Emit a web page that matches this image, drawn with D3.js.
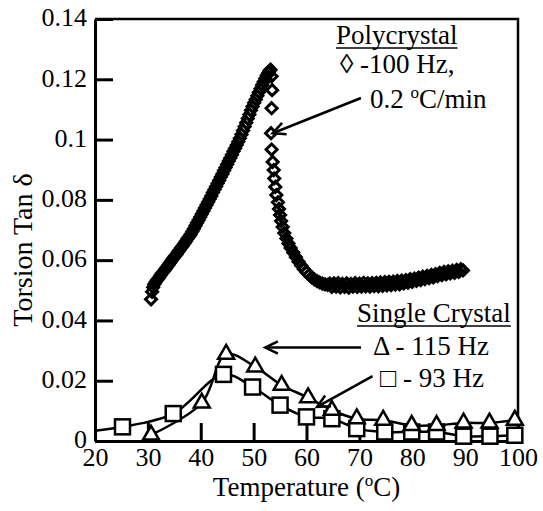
<!DOCTYPE html>
<html>
<head>
<meta charset="utf-8">
<script src="https://cdn.jsdelivr.net/npm/d3@7/dist/d3.min.js"></script>
<style>
    body { margin: 0; background: #fff; }
</style>
</head>
<body>
<div id="chart"></div>
<script>
// polycrystal, 100 Hz, 0.2 C/min (dense run)
let polyTemp = [
    30.6, 30.8, 31.0, 31.2, 31.5, 31.8, 32.1, 32.4, 32.7, 33.0, 33.3, 33.6, 33.9, 34.2, 34.5, 34.8,
    35.1, 35.4, 35.7, 36.0, 36.3, 36.6, 36.9, 37.2, 37.5, 37.8, 38.1, 38.4, 38.7, 39.0, 39.3, 39.6,
    39.9, 40.2, 40.5, 40.8, 41.1, 41.4, 41.7, 42.0, 42.3, 42.6, 42.9, 43.2, 43.5, 43.8, 44.1, 44.4,
    44.7, 45.0, 45.3, 45.6, 45.9, 46.2, 46.5, 46.8, 47.1, 47.4, 47.7, 48.0, 48.3, 48.6, 48.9, 49.2,
    49.5, 49.8, 50.1, 50.4, 50.7, 51.0, 51.3, 51.6, 51.9, 52.2, 52.5, 52.8, 53.0, 53.2,
    53.4, 53.5, 53.4, 53.3, 53.4, 53.6, 53.8, 53.9, 54.1, 54.3, 54.6, 54.8, 55.0, 55.2, 55.5, 55.8,
    56.2, 56.6, 57.0, 57.5, 58.0, 58.5, 59.0, 59.5, 60.0, 60.5, 61.0, 61.5, 62.0, 62.5, 63.0, 63.5,
    64.0, 64.4, 64.8, 65.2, 65.6, 66.0, 66.4, 66.8, 67.2, 67.6, 68.0, 68.4, 68.8, 69.2, 69.6, 70.0,
    70.4, 70.8, 71.2, 71.6, 72.0, 72.4, 72.8, 73.2, 73.6, 74.0, 74.4, 74.8, 75.2, 75.6, 76.0, 76.4,
    76.8, 77.2, 77.6, 78.0, 78.4, 78.8, 79.2, 79.6, 80.0, 80.4, 80.8, 81.2, 81.6, 82.0, 82.4, 82.8,
    83.2, 83.6, 84.0, 84.4, 84.8, 85.2, 85.6, 86.0, 86.4, 86.8, 87.2, 87.6, 88.0, 88.4, 88.8, 89.2, 89.6
]
let polyTan = [
    0.0470, 0.0495, 0.0510, 0.0520, 0.0528, 0.0535, 0.0542, 0.0550, 0.0557, 0.0563, 0.0570, 0.0577, 0.0584, 0.0591, 0.0599, 0.0606,
    0.0613, 0.0619, 0.0627, 0.0634, 0.0641, 0.0648, 0.0655, 0.0663, 0.0671, 0.0678, 0.0686, 0.0695, 0.0704, 0.0714, 0.0724, 0.0733,
    0.0743, 0.0753, 0.0763, 0.0773, 0.0783, 0.0793, 0.0803, 0.0813, 0.0824, 0.0834, 0.0844, 0.0855, 0.0865, 0.0876, 0.0886, 0.0897,
    0.0907, 0.0918, 0.0929, 0.0939, 0.0950, 0.0961, 0.0971, 0.0982, 0.0993, 0.1004, 0.1017, 0.1030, 0.1043, 0.1056, 0.1070, 0.1083,
    0.1097, 0.1110, 0.1122, 0.1133, 0.1145, 0.1157, 0.1169, 0.1181, 0.1192, 0.1203, 0.1213, 0.1222, 0.1228, 0.1232,
    0.1210, 0.1164, 0.1104, 0.1021, 0.0967, 0.0926, 0.0899, 0.0871, 0.0843, 0.0816, 0.0792, 0.0770, 0.0750, 0.0730, 0.0710, 0.0690,
    0.0672, 0.0655, 0.0640, 0.0625, 0.0610, 0.0595, 0.0582, 0.0570, 0.0560, 0.0551, 0.0543, 0.0536, 0.0530, 0.0526, 0.0522, 0.0520,
    0.0518, 0.0522, 0.0511, 0.0523, 0.0512, 0.0524, 0.0510, 0.0521, 0.0511, 0.0523, 0.0509, 0.0521, 0.0512, 0.0524, 0.0511, 0.0522,
    0.0512, 0.0525, 0.0513, 0.0523, 0.0512, 0.0524, 0.0514, 0.0525, 0.0513, 0.0526, 0.0515, 0.0527, 0.0516, 0.0528, 0.0517, 0.0529,
    0.0519, 0.0531, 0.0520, 0.0532, 0.0523, 0.0534, 0.0525, 0.0537, 0.0528, 0.0539, 0.0531, 0.0542, 0.0534, 0.0545, 0.0537, 0.0548,
    0.0540, 0.0551, 0.0543, 0.0554, 0.0547, 0.0558, 0.0550, 0.0561, 0.0553, 0.0563, 0.0556, 0.0565, 0.0558, 0.0568, 0.0561, 0.0570, 0.0566
]

// single crystal, 115 Hz (triangles)
let triTemp = [30.6, 40.2, 44.8, 50.3, 55.3, 60.3, 64.8, 69.5, 74.5, 79.9, 84.6, 89.7, 94.6, 99.4]
let triTan = [0.0020, 0.0126, 0.0288, 0.0246, 0.0185, 0.0144, 0.0102, 0.0074, 0.0069, 0.0052, 0.0052, 0.0060, 0.0060, 0.0069]

// single crystal, 93 Hz (squares); first point sits left of the axis
let sqTemp = [15.0, 25.2, 34.8, 44.3, 49.8, 55.0, 60.0, 64.8, 69.5, 74.8, 79.9, 84.6, 89.7, 94.7, 99.4]
let sqTan = [0.0025, 0.0047, 0.0091, 0.0221, 0.0179, 0.0119, 0.0080, 0.0074, 0.0041, 0.0030, 0.0030, 0.0030, 0.0016, 0.0016, 0.0019]

let xTicks = [20, 30, 40, 50, 60, 70, 80, 90, 100]
let yTicks = [0, 0.02, 0.04, 0.06, 0.08, 0.1, 0.12, 0.14]
let yTickLabels = ['0', '0.02', '0.04', '0.06', '0.08', '0.1', '0.12', '0.14']

let svgWidth = 543
let svgHeight = 511
let padding = { 'left': 95, 'right': 25, 'top': 19, 'bottom': 70 }
let serif = '"Liberation Serif", Tinos, "Times New Roman", Times, "DejaVu Serif", serif'

let svg = d3.select('#chart').append('svg')
    .attr('width', svgWidth)
    .attr('height', svgHeight)
    .style('font-family', serif)

let x = d3.scaleLinear()
    .domain([20, 100])
    .range([padding.left, svgWidth - padding.right])
let y = d3.scaleLinear()
    .domain([0, 0.14])
    .range([svgHeight - padding.bottom, padding.top])

// axes, ticks pointing inwards
let axis_x = d3.axisBottom(x)
    .tickValues(xTicks)
    .tickSize(-18)
    .tickSizeOuter(0)
    .tickPadding(7)
    .tickFormat(d => d)
let gx = svg.append('g')
    .attr('transform', `translate(0, ${svgHeight - padding.bottom})`)
    .call(axis_x)

let axis_y = d3.axisLeft(y)
    .tickValues(yTicks)
    .tickSize(-18)
    .tickSizeOuter(0)
    .tickPadding(8)
    .tickFormat((d, i) => yTickLabels[i])
let gy = svg.append('g')
    .attr('transform', `translate(${padding.left}, 0)`)
    .call(axis_y)

svg.selectAll('.tick text')
    .style('font-family', serif)
    .style('font-size', '26px')
    .attr('fill', '#000')
gy.selectAll('.tick text').attr('dy', '0.26em')
svg.selectAll('.domain').attr('stroke', '#000').attr('stroke-width', 3)
svg.selectAll('.tick line').attr('stroke', '#000').attr('stroke-width', 3)

// frame top and right
svg.append('path')
    .attr('d', `M${x(20)},${y(0.14)}H${x(100)}V${y(0)}`)
    .attr('fill', 'none')
    .attr('stroke', '#000')
    .attr('stroke-width', 2.5)

function label(tx, ty, size) {
    return svg.append('text')
        .attr('x', tx)
        .attr('y', ty)
        .style('font-family', serif)
        .style('font-size', size + 'px')
        .attr('fill', '#000')
}

// axis titles
let xt = label((x(20) + x(100)) / 2, 496, 27).attr('text-anchor', 'middle')
xt.append('tspan').text('Temperature (')
xt.append('tspan').style('font-size', '17px').attr('dy', -10).text('o')
xt.append('tspan').attr('dy', 10).text('C)')

label(0, 0, 28)
    .attr('transform', `translate(32, ${(y(0) + y(0.14)) / 2 + 20}) rotate(-90)`)
    .attr('text-anchor', 'middle')
    .text('Torsion Tan δ')

// plot clip
svg.append('clipPath')
    .attr('id', 'plotClip')
    .append('rect')
    .attr('x', x(20))
    .attr('y', y(0.14) - 20)
    .attr('width', x(100) - x(20) + 20)
    .attr('height', y(0) - y(0.14) + 40)

let line = d3.line()
    .x(d => x(d[0]))
    .y(d => y(d[1]))
    .curve(d3.curveCatmullRom)

let triData = triTemp.map((t, i) => [t, triTan[i]])
let sqData = sqTemp.map((t, i) => [t, sqTan[i]])
let polyData = polyTemp.map((t, i) => [t, polyTan[i]])

let series = svg.append('g').attr('clip-path', 'url(#plotClip)')

series.append('path')
    .datum(sqData)
    .attr('d', line)
    .attr('fill', 'none')
    .attr('stroke', '#000')
    .attr('stroke-width', 2.5)
series.append('path')
    .datum(triData)
    .attr('d', line)
    .attr('fill', 'none')
    .attr('stroke', '#000')
    .attr('stroke-width', 2.5)

series.selectAll('.sq')
    .data(sqData)
    .enter()
    .append('rect')
    .attr('class', 'sq')
    .attr('x', d => x(d[0]) - 7.5)
    .attr('y', d => y(d[1]) - 7.5)
    .attr('width', 15)
    .attr('height', 15)
    .attr('fill', '#fff')
    .attr('stroke', '#000')
    .attr('stroke-width', 2.5)

series.selectAll('.tri')
    .data(triData)
    .enter()
    .append('path')
    .attr('class', 'tri')
    .attr('d', d3.symbol().type(d3.symbolTriangle).size(110))
    .attr('transform', d => `translate(${x(d[0])}, ${y(d[1])})`)
    .attr('fill', '#fff')
    .attr('stroke', '#000')
    .attr('stroke-width', 2.5)

series.selectAll('.dia')
    .data(polyData)
    .enter()
    .append('path')
    .attr('class', 'dia')
    .attr('d', 'M0,-5.5L5.5,0L0,5.5L-5.5,0Z')
    .attr('transform', d => `translate(${x(d[0])}, ${y(d[1])})`)
    .attr('fill', 'none')
    .attr('stroke', '#000')
    .attr('stroke-width', 3)

// annotations
function underlined(txt, tx, ty) {
    let t = label(tx, ty, 27).text(txt)
    let w = t.node().getComputedTextLength()
    svg.append('line')
        .attr('x1', tx).attr('x2', tx + w)
        .attr('y1', ty + 4).attr('y2', ty + 4)
        .attr('stroke', '#000')
        .attr('stroke-width', 1.5)
}

function arrow(from, to) {
    let x1 = x(from[0]), y1 = y(from[1])
    let x2 = x(to[0]), y2 = y(to[1])
    let ang = Math.atan2(y1 - y2, x1 - x2)
    let len = 14, spread = 0.45
    svg.append('line')
        .attr('x1', x1).attr('y1', y1)
        .attr('x2', x2).attr('y2', y2)
        .attr('stroke', '#000')
        .attr('stroke-width', 2.5)
    svg.append('path')
        .attr('d', `M${x2 + len * Math.cos(ang + spread)},${y2 + len * Math.sin(ang + spread)}
            L${x2},${y2}
            L${x2 + len * Math.cos(ang - spread)},${y2 + len * Math.sin(ang - spread)}`)
        .attr('fill', 'none')
        .attr('stroke', '#000')
        .attr('stroke-width', 2.5)
}

underlined('Polycrystal', 336, 44)
label(340, 73, 27).text('\u25CA -100 Hz,')
let rate = label(370, 108, 27)
rate.append('tspan').text('0.2 ')
rate.append('tspan').style('font-size', '17px').attr('dy', -10).text('o')
rate.append('tspan').attr('dy', 10).text('C/min')

underlined('Single Crystal', 357, 322)
label(373, 355, 27).text('\u0394 - 115 Hz')
label(380, 387, 27).text('\u25A1 - 93 Hz')

arrow([70.3, 0.1138], [53.6, 0.1021])
arrow([70.3, 0.0310], [52.2, 0.0310])
arrow([72.5, 0.0215], [62.0, 0.0113])
</script>
</body>
</html>
